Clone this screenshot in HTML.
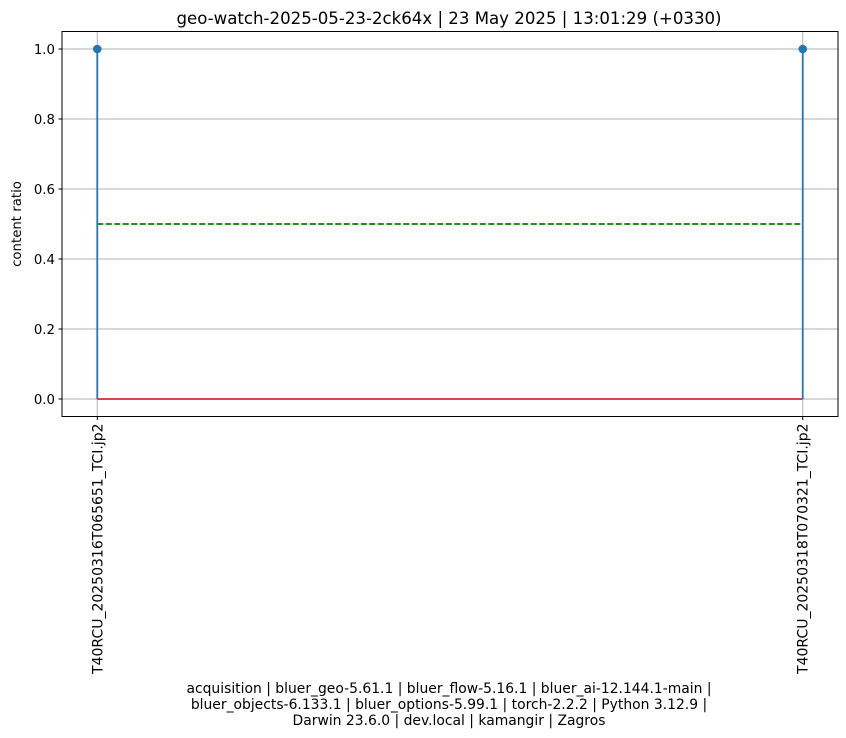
<!DOCTYPE html>
<html><head><meta charset="utf-8"><style>
body{margin:0;background:#fff;}
svg{display:block;font-family:"DejaVu Sans","Liberation Sans",sans-serif;}
</style></head><body>
<svg id="chart" width="846" height="738" viewBox="0 0 846 738" xmlns="http://www.w3.org/2000/svg">
<rect width="846" height="738" fill="#fff"/>
<text x="449" y="24" font-size="16.6" text-anchor="middle">geo-watch-2025-05-23-2ck64x | 23 May 2025 | 13:01:29 (+0330)</text>
<g id="grid"></g>
<g id="marks"></g>
<rect x="62" y="31.5" width="776" height="385" fill="none" stroke="#000" stroke-width="1"/>
<g id="axes"></g>
<text transform="translate(21,224) rotate(-90)" font-size="13.3" text-anchor="middle">content ratio</text>
<g font-size="13.9" text-anchor="middle">
<text x="449" y="693">acquisition | bluer_geo-5.61.1 | bluer_flow-5.16.1 | bluer_ai-12.144.1-main |</text>
<text x="449" y="709">bluer_objects-6.133.1 | bluer_options-5.99.1 | torch-2.2.2 | Python 3.12.9 |</text>
<text x="449" y="725">Darwin 23.6.0 | dev.local | kamangir | Zagros</text>
</g>
</svg>
<script>
const categories=["T40RCU_20250316T065651_TCI.jp2","T40RCU_20250318T070321_TCI.jp2"];
const values=[1.0,1.0];
const threshold=[0.5];
const yTicks=[0.0,0.2,0.4,0.6,0.8,1.0];
const NS="http://www.w3.org/2000/svg";
const L=62,R=838,T=31.5,B=416.5;
const xmin=-0.05,xmax=categories.length-1+0.05,ymin=-0.05,ymax=1.05;
const xs=i=>L+(i-xmin)/(xmax-xmin)*(R-L);
const ys=v=>B-(v-ymin)/(ymax-ymin)*(B-T);
function mk(t,a,p){const e=document.createElementNS(NS,t);for(const k in a)e.setAttribute(k,a[k]);p.appendChild(e);return e;}
const grid=document.getElementById('grid'),marks=document.getElementById('marks'),axes=document.getElementById('axes');
yTicks.forEach(v=>{
 const g=mk('line',{x1:L,x2:R,y1:ys(v),y2:ys(v),stroke:'#b0b0b0','stroke-width':1},grid);
 
 
 const tk=mk('line',{x1:L-3.5,x2:L,y1:ys(v),y2:ys(v),stroke:'#000'},axes);
 
 
 const tx=mk('text',{x:L-7,y:ys(v)+4.8,'font-size':13.3,'text-anchor':'end'},axes);
 tx.textContent=v.toFixed(1);
 
 
});
categories.forEach((c,i)=>{
 const g=mk('line',{x1:xs(i),x2:xs(i),y1:T,y2:B,stroke:'#b0b0b0','stroke-width':1},grid);
 
 
 const tk=mk('line',{x1:xs(i),x2:xs(i),y1:B,y2:B+3.5,stroke:'#000'},axes);
 
 
 const tx=mk('text',{transform:`translate(${xs(i)+5},${B+7}) rotate(-90)`,'font-size':14,'text-anchor':'end'},axes);
 tx.textContent=c;
 
 
});
const th=mk('line',{x1:xs(0),x2:xs(categories.length-1),y1:ys(threshold[0]),y2:ys(threshold[0]),stroke:'green','stroke-width':1.8,'stroke-dasharray':'6,2.5'},marks);


const base=mk('line',{x1:xs(0),x2:xs(categories.length-1),y1:ys(0),y2:ys(0),stroke:'#d62728','stroke-width':1.8},marks);


values.forEach((v,i)=>{
 const s=mk('line',{x1:xs(i),x2:xs(i),y1:ys(0),y2:ys(v),stroke:'#1f77b4','stroke-width':1.8},marks);
 
 
 const m=mk('circle',{cx:xs(i),cy:ys(v),r:4.3,fill:'#1f77b4'},marks);
 
 
});
</script>
</body></html>
